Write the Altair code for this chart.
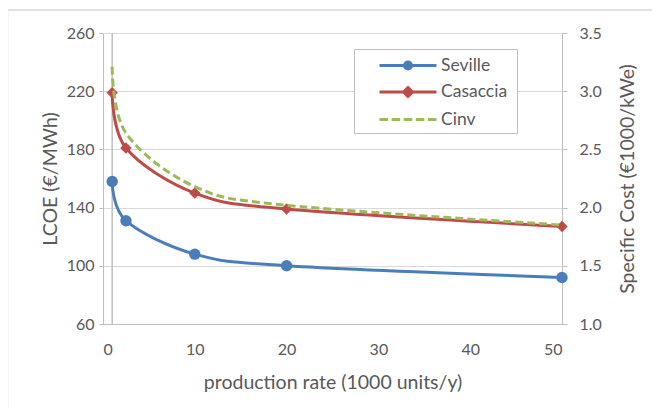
import altair as alt
import pandas as pd

# ---- data ----
rate = [1, 2.5, 10, 20, 50]
seville = [158, 131, 108, 100, 92]
casaccia = [219, 181, 150, 139, 127]
cinv = [3.21, 2.64, 2.18, 2.02, 1.85]
series = ["Seville", "Casaccia", "Cinv"]
colors = ["#4A7EBB", "#BE4B48", "#9BBB59"]
x_ticks = [0, 10, 20, 30, 40, 50]
left_ticks = [60, 100, 140, 180, 220, 260]
right_ticks = [1.0, 1.5, 2.0, 2.5, 3.0, 3.5]

FONT = "Lato"
TXT = "#595959"
AX = "#BFBFBF"
GRID = "#D9D9D9"
W, H = 459, 291

df_s = pd.DataFrame({"rate": rate, "value": seville})
df_c = pd.DataFrame({"rate": rate, "value": casaccia})
df_i = pd.DataFrame({"rate": rate, "value": cinv})
df_leg = pd.DataFrame({"series": series})

xenc = alt.X(
    "rate:Q",
    scale=alt.Scale(domain=[0, 50], nice=False, zero=False),
    axis=alt.Axis(values=x_ticks, title="production rate (1000 units/y)",
                  grid=False, ticks=False, domainColor=AX, labelPadding=17,
                  titleX=W / 2, titleY=58, titleBaseline="middle", titleAlign="center"),
)
yleft = alt.Y(
    "value:Q",
    scale=alt.Scale(domain=[60, 260], nice=False, zero=False),
    axis=alt.Axis(values=left_ticks, title="LCOE (€/MWh)", grid=True,
                  gridColor=GRID, ticks=True, tickSize=4, tickColor=AX,
                  domainColor=AX, labelPadding=5,
                  titleX=-53, titleY=H / 2, titleAngle=270, titleBaseline="middle",
                  titleAlign="center"),
)
yright = alt.Y(
    "value:Q",
    scale=alt.Scale(domain=[1.0, 3.5], nice=False, zero=False),
    axis=alt.Axis(values=right_ticks, format=".1f", orient="right",
                  title="Specific Cost (€1000/kWe)", grid=False, ticks=True,
                  tickSize=5, tickColor=AX, domainColor=AX, labelPadding=12,
                  titleX=65, titleY=H / 2, titleAngle=270, titleBaseline="middle",
                  titleAlign="center"),
)

frame = alt.Chart(df_leg.head(1)).mark_rect(
    fill=None, stroke=GRID, strokeWidth=1.5, clip=False
).encode(x=alt.value(-95.5), x2=alt.value(700), y=alt.value(-23), y2=alt.value(500))

rule = alt.Chart(df_s.head(1)).mark_rule(color=AX, strokeWidth=1.5).encode(x=alt.datum(1))

def series_layers(df, color, shape):
    line = alt.Chart(df).mark_line(color=color, strokeWidth=3, interpolate="cardinal").encode(x=xenc, y=yleft)
    pts = alt.Chart(df).mark_point(color=color, filled=True, opacity=1, size=130, shape=shape).encode(x=xenc, y=yleft)
    return line, pts

ls, ps = series_layers(df_s, colors[0], "circle")
lc, pc = series_layers(df_c, colors[1], "diamond")

# legend symbols: line + marker drawn as one path (unit = 10 px)
paths = [
    "M0.9,0H6.6M3.4,0A0.35,0.35,0,1,0,4.1,0A0.35,0.35,0,1,0,3.4,0Z",
    "M0.9,0H6.6M3.75,-0.45L4.2,0L3.75,0.45L3.3,0Z",
    "M0.9,0H1.76M2.11,0H2.97M3.32,0H4.18M4.53,0H5.39M5.74,0H6.6",
]
leg = alt.Legend(
    title="\u00a0\u00a0\u00a0\u00a0", titleOrient="right", titleFontSize=16,
    orient="none", legendX=251, legendY=16, padding=5,
    fillColor="white", strokeColor=AX, labelFont=FONT, labelFontSize=17.5,
    labelColor=TXT, symbolSize=400, symbolStrokeWidth=3, labelOffset=59,
    rowPadding=5.5, labelLimit=200,
)
scale_c = alt.Scale(domain=series, range=colors)
helper = alt.Chart(df_leg).mark_point(filled=True, size=400, strokeWidth=3, clip=True, opacity=1).encode(
    x=alt.value(-300), y=alt.value(-300),
    fill=alt.Fill("series:N", scale=scale_c, legend=leg),
    stroke=alt.Stroke("series:N", scale=scale_c, legend=leg),
    shape=alt.Shape("series:N", scale=alt.Scale(domain=series, range=paths), legend=leg),
)

left = alt.layer(frame, rule, ls, lc, ps, pc, helper)
right = alt.Chart(df_i).mark_line(
    color=colors[2], strokeWidth=3, strokeDash=[8, 4], interpolate="cardinal"
).encode(x=xenc, y=yright)

chart = alt.layer(left, right).resolve_scale(y="independent").properties(
    width=W, height=H,
    background="white",
    autosize=alt.AutoSizeParams(type="none"),
    padding={"left": 95, "top": 25, "right": 90, "bottom": 84},
).configure_view(stroke=None).configure_axis(
    labelFont=FONT, labelFontSize=16, labelColor=TXT,
    titleFont=FONT, titleFontSize=19.5, titleColor=TXT, titleFontWeight="normal",
)

chart.save("out.html", embed_options={"renderer": "svg", "actions": False})
